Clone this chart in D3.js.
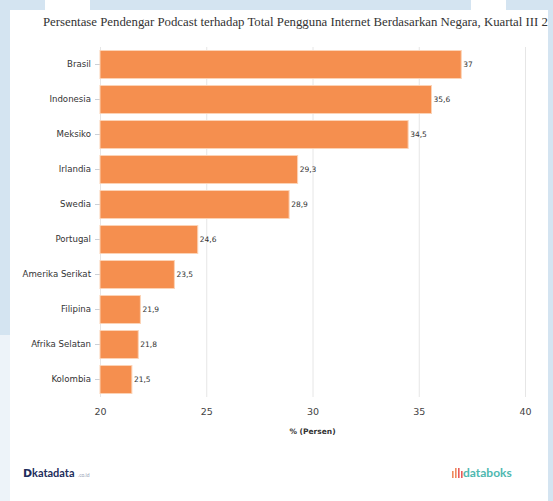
<!DOCTYPE html>
<html>
<head>
<meta charset="utf-8">
<script src="https://cdnjs.cloudflare.com/ajax/libs/d3/7.8.5/d3.min.js"></script>
<style>
	body { margin: 0; background: #fff; }
	svg { display: block; }
</style>
</head>
<body>
<div id="chart"></div>
<script>
// data
var countries = ["Brasil","Indonesia","Meksiko","Irlandia","Swedia","Portugal","Amerika Serikat","Filipina","Afrika Selatan","Kolombia"];
var values = [37,35.6,34.5,29.3,28.9,24.6,23.5,21.9,21.8,21.5];
var xTicks = [20,25,30,35,40];
var titleText = "Persentase Pendengar Podcast terhadap Total Pengguna Internet Berdasarkan Negara, Kuartal III 2";
var axisTitle = "% (Persen)";

var W = 553, H = 501;
var plot = {left: 100, right: 525, top: 47, bottom: 397};

var svg = d3.select("#chart").append("svg")
	.attr("width",W)
	.attr("height",H);

// watermark-ish background round the white card
svg.append("rect").attr("width",W).attr("height",H).attr("fill","#d4e4f1");
svg.append("rect").attr("x",0).attr("y",335).attr("width",10).attr("height",H-335).attr("fill","#edf3f9");
svg.append("rect").attr("x",45).attr("y",0).attr("width",45).attr("height",10).attr("fill","#fff");
svg.append("rect").attr("x",471).attr("y",0).attr("width",35).attr("height",10).attr("fill","#fff");

svg.append("defs").append("clipPath").attr("id","card")
	.append("rect").attr("x",10).attr("y",10).attr("width",538).attr("height",H-10);

var card = svg.append("g").attr("clip-path","url(#card)");
card.append("rect")
	.attr("x",10).attr("y",10)
	.attr("width",538).attr("height",H-10)
	.attr("fill","#fff");

card.append("text")
	.text(titleText)
	.attr("x",43)
	.attr("y",26)
	.attr("fill","#333")
	.attr("font-family","'Liberation Serif', 'Times New Roman', serif")
	.attr("font-size","12.8px");

var x = d3.scaleLinear().domain([20,40]).range([plot.left,plot.right]);
var y = d3.scaleBand().domain(countries).range([plot.top,plot.bottom]).paddingInner(0.2).paddingOuter(0.1);

// vertical grid
card.append("g")
	.attr("transform","translate(0,"+plot.bottom+")")
	.call(d3.axisBottom(x).tickValues(xTicks).tickSize(-(plot.bottom-plot.top)).tickFormat(""))
	.call(function(g)
	{
		g.select(".domain").remove();
		g.selectAll("line").attr("stroke","#e6e6e6");
	});

// x labels
card.append("g")
	.attr("transform","translate(0,"+plot.bottom+")")
	.call(d3.axisBottom(x).tickValues(xTicks).tickSize(0).tickPadding(11))
	.call(function(g)
	{
		g.select(".domain").remove();
		g.selectAll("text")
			.attr("fill","#444")
			.attr("font-family","'DejaVu Sans', Verdana, sans-serif")
			.attr("font-size","9.5px");
	});

card.append("text")
	.text(axisTitle)
	.attr("x",(plot.left+plot.right)/2)
	.attr("y",434)
	.attr("text-anchor","middle")
	.attr("fill","#333")
	.attr("font-weight","bold")
	.attr("font-family","'DejaVu Sans', Verdana, sans-serif")
	.attr("font-size","7.5px");

// y axis
card.append("g")
	.attr("transform","translate("+plot.left+",0)")
	.call(d3.axisLeft(y).tickSize(5).tickPadding(4))
	.call(function(g)
	{
		g.select(".domain").remove();
		g.selectAll("line").attr("stroke","#ccd0d6");
		g.selectAll("text")
			.attr("fill","#333")
			.attr("font-family","'DejaVu Sans', Verdana, sans-serif")
			.attr("font-size","8.6px");
	});

var bars = card.selectAll("g.bar").data(countries).enter().append("g").classed("bar",1);

bars.append("rect")
	.attr("x",x(20))
	.attr("y",function(d,i)
	{
		return y(d);
	})
	.attr("width",function(d,i)
	{
		return x(values[i])-x(20);
	})
	.attr("height",y.bandwidth())
	.attr("fill","#f58f4f")
	.attr("stroke","#fcd3b6")
	.attr("stroke-width",1);

bars.append("text")
	.text(function(d,i)
	{
		return String(values[i]).replace(".",",");
	})
	.attr("x",function(d,i)
	{
		return x(values[i])+2;
	})
	.attr("y",function(d,i)
	{
		return y(d)+y.bandwidth()/2;
	})
	.attr("dy","0.35em")
	.attr("fill","#333")
	.attr("font-family","'DejaVu Sans', Verdana, sans-serif")
	.attr("font-size","7.5px");

// footer logos
var kd = card.append("g").attr("transform","translate(23,473)");
kd.append("text").text("D")
	.attr("y",4).attr("fill","#1d2d5c")
	.attr("font-family","'DejaVu Sans', sans-serif").attr("font-weight","bold").attr("font-size","11px");
kd.append("text").text("katadata")
	.attr("x",9).attr("y",4).attr("fill","#1d2d5c")
	.attr("font-family","Lato, 'Open Sans', sans-serif").attr("font-weight","bold").attr("font-size","11px");
kd.append("text").text(".co.id")
	.attr("x",55).attr("y",4).attr("fill","#9aa3b5")
	.attr("font-family","Lato, sans-serif").attr("font-size","5px");

var db = card.append("g").attr("transform","translate(452,473)");
[0,3,6,9].forEach(function(dx,i)
{
	db.append("rect")
		.attr("x",dx).attr("y",i%3==0 ? -2 : -5)
		.attr("width",1.6).attr("height",i%3==0 ? 7 : 10)
		.attr("fill",i<2 ? "#f08a5d" : "#e85c5c");
});
db.append("text").text("databoks")
	.attr("x",11).attr("y",4).attr("fill","#4fb8b0")
	.attr("font-family","Lato, 'Open Sans', sans-serif").attr("font-weight","bold").attr("font-size","12px");
</script>
</body>
</html>
